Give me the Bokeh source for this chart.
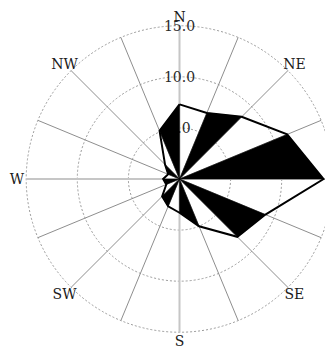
import numpy as np
from bokeh.plotting import figure
from bokeh.models import Range1d
from bokeh.core.properties import value
from bokeh.embed import file_html
from bokeh.resources import INLINE

# Wind rose: 16 compass directions, clockwise from north
directions = ["N", "NNE", "NE", "ENE", "E", "ESE", "SE", "SSE",
              "S", "SSW", "SW", "WSW", "W", "WNW", "NW", "NNW"]
frequency = [7.3, 7.0, 8.6, 11.4, 14.1, 9.1, 8.0, 5.0,
             3.3, 2.9, 2.4, 1.4, 1.6, 1.2, 2.0, 5.1]

ring_values = [5.0, 10.0, 15.0]
ring_labels = ["5.0", "10.0", "15.0"]
# compass labels and their bearings in degrees (E falls outside the frame)
compass_labels = ["N", "NE", "SE", "S", "SW", "W", "NW"]
compass_bearings = [0, 45, 135, 180, 225, 270, 315]

R_MAX = 15.0
PX = 10.22  # screen pixels per data unit
W, H = 325, 349
CX, CY = 179, 178.5
FONT = value("DejaVu Serif")

p = figure(width=W, height=H, output_backend="svg", toolbar_location=None,
           x_range=Range1d(-CX / PX, (W - CX) / PX),
           y_range=Range1d(-(H - CY) / PX, CY / PX),
           min_border=0)
p.axis.visible = False
p.grid.visible = False
p.outline_line_color = None
p.background_fill_color = "white"

n = len(directions)
theta = np.deg2rad(np.arange(n) * 360.0 / n)

# dashed rings
for rv in ring_values:
    p.circle(x=0, y=0, radius=rv, fill_color=None, line_color="#9a9a9a",
             line_dash="2 2", line_width=1)

# spokes: cardinal ones lighter and wider
for i, t in enumerate(theta):
    cardinal = i % 4 == 0
    p.line([0, R_MAX * np.sin(t)], [0, R_MAX * np.cos(t)],
           line_color="#c6c6c6" if cardinal else "#8e8e8e",
           line_width=2 if cardinal else 1)

# ring labels along the north spoke
p.text(x=[0] * len(ring_values), y=ring_values, text=ring_labels,
       text_font=FONT, text_font_size="14px",
       text_align="center", text_baseline="middle", text_color="#2a2a2a")

# compass labels
lab_r = 15.9
lab_t = np.deg2rad(compass_bearings)
p.text(x=lab_r * np.sin(lab_t), y=lab_r * np.cos(lab_t), text=compass_labels,
       text_font=FONT, text_font_size="14px",
       text_align="center", text_baseline="middle", text_color="#1a1a1a")

# rose: alternating black sectors between neighbouring directions
r = np.array(frequency)
px = r * np.sin(theta)
py = r * np.cos(theta)
xs, ys = [], []
for i in range(1, n, 2):
    j = (i + 1) % n
    xs.append([0, px[i], px[j]])
    ys.append([0, py[i], py[j]])
p.patches(xs, ys, fill_color="black", line_color="black", line_width=0.5)

# outline polygon
p.line(list(px) + [px[0]], list(py) + [py[0]], line_color="black",
       line_width=2, line_join="miter")

open("out.html", "w").write(file_html(p, INLINE))
